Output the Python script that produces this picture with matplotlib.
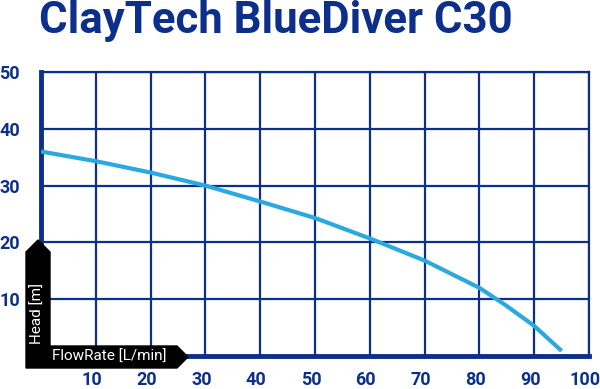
import matplotlib.pyplot as plt
from matplotlib.patches import Polygon
import matplotlib.transforms as mtrans

# pump curve
flow = [0, 10, 20, 30, 40, 50, 60, 70, 80, 85, 90, 95]
head = [36.0, 34.3, 32.3, 30.0, 27.2, 24.3, 20.7, 16.8, 12.0, 8.8, 5.3, 0.9]
x_ticks = [10, 20, 30, 40, 50, 60, 70, 80, 90, 100]
y_ticks = [10, 20, 30, 40, 50]

title = 'ClayTech BlueDiver C30'
x_name = 'FlowRate [L/min]'
y_name = 'Head [m]'

navy = '#0b2f8a'
curve_col = '#2aa9e0'

W, H = 600, 389
fig = plt.figure(figsize=(6, 3.89), dpi=100)
ax = fig.add_axes([41 / W, 1 - 356 / H, 548 / W, (356 - 72) / H])

ax.plot(flow, head, color=curve_col, linewidth=3, solid_capstyle='butt', zorder=3)

ax.set_xlim(0, 100)
ax.set_ylim(0, 50)
ax.set_xticks(x_ticks)
ax.set_yticks(y_ticks)
ax.grid(True, color=navy, linewidth=1.6, zorder=1)
ax.set_axisbelow(True)
ax.tick_params(length=0, colors=navy, labelsize=13)
ax.tick_params(axis='x', pad=11)
ax.tick_params(axis='y', pad=15)
for lab in ax.get_xticklabels() + ax.get_yticklabels():
    lab.set_fontweight('bold')
    lab.set_fontfamily('Roboto')
# x labels sit a little left of their grid lines
shift = mtrans.ScaledTranslation(-4 / 100, 0, fig.dpi_scale_trans)
for lab in ax.get_xticklabels():
    lab.set_transform(lab.get_transform() + shift)

for side in ['top', 'right']:
    ax.spines[side].set_color(navy)
    ax.spines[side].set_linewidth(1.6)
for side in ['left', 'bottom']:
    ax.spines[side].set_color(navy)
    ax.spines[side].set_linewidth(3.5)

# overlay in pixel units for the black axis badges
ov = fig.add_axes([0, 0, 1, 1], zorder=5)
ov.set_xlim(0, W)
ov.set_ylim(H, 0)
ov.axis('off')
ov.patch.set_alpha(0)
badge = [(26, 368), (26, 252), (38, 240), (50, 252), (50, 346),
         (177, 346), (188, 357), (177, 368)]
ov.add_patch(Polygon(badge, closed=True, color='black'))
ov.text(38, 313, y_name, rotation=90, color='white', fontsize=11,
        family='Roboto', ha='center', va='center')
ov.text(109, 357, x_name, color='white', fontsize=11,
        family='Roboto', ha='center', va='center')

fig.text(39 / W, 1 - 33 / H, title, color=navy, fontsize=31.5, fontweight='bold',
         family='Roboto', ha='left', va='baseline')

fig.savefig('out.png', dpi=100)
